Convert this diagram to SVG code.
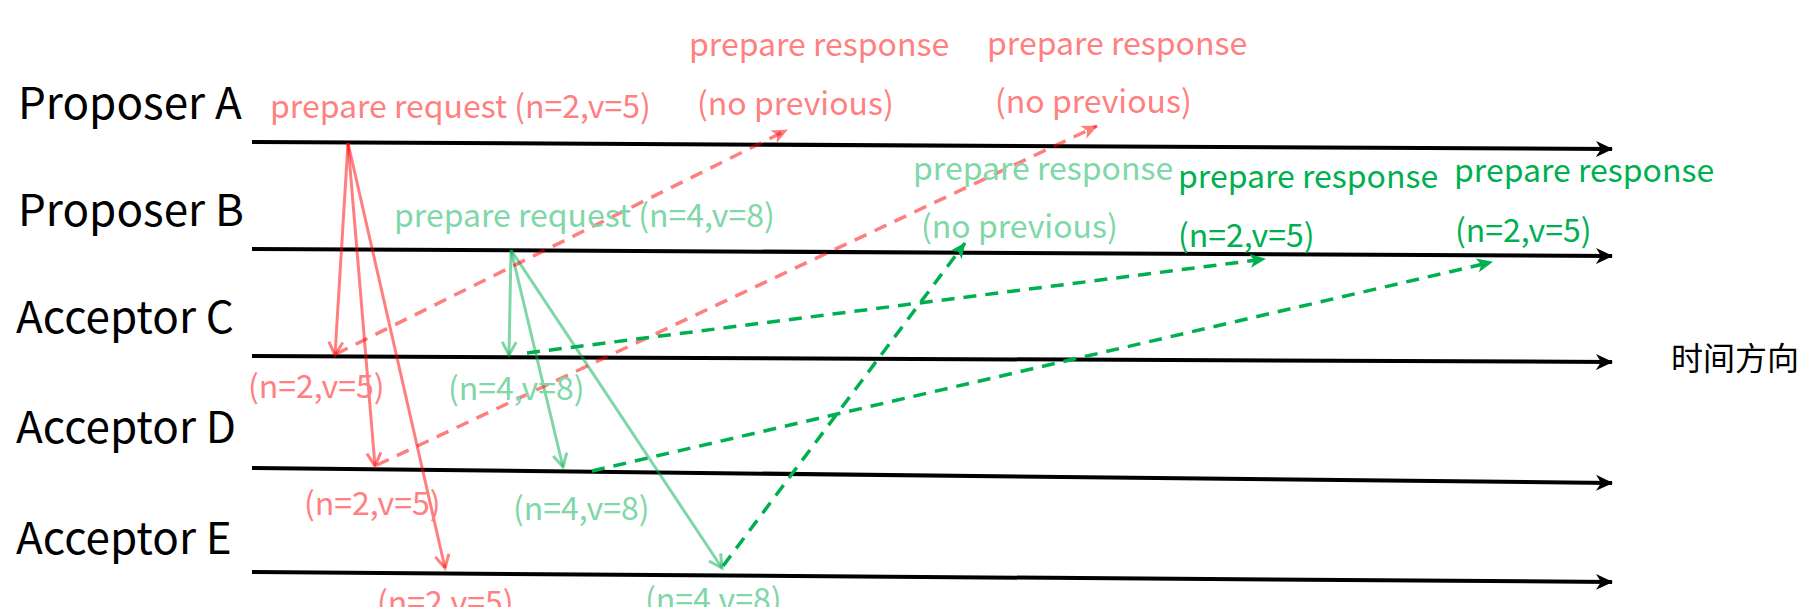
<svg xmlns="http://www.w3.org/2000/svg" width="1820" height="607" viewBox="0 0 1820 607">
<style>
text{font-family:"Noto Sans CJK SC","Noto Sans",sans-serif}
.big{font-size:44px;fill:#000}
.lbl{font-size:32px}
.r{fill:#FF8080}
.lg{fill:#80D7A7}
.dg{fill:#00B050}
.time{stroke:#000;stroke-width:4;fill:none;marker-end:url(#blk)}
.req-r{stroke:#FF0000;stroke-opacity:0.5;stroke-width:3;fill:none;marker-end:url(#openR)}
.req-g{stroke:#00B050;stroke-opacity:0.5;stroke-width:3;fill:none;marker-end:url(#openG)}
.res-r{stroke:#FF0000;stroke-opacity:0.5;stroke-width:3.5;stroke-dasharray:13 9;fill:none;marker-end:url(#fillR)}
.res-g{stroke:#00B050;stroke-width:3.5;stroke-dasharray:13 9;fill:none;marker-end:url(#fillG)}
</style>
<defs>
<marker id="blk" markerUnits="userSpaceOnUse" markerWidth="20" markerHeight="20" refX="16" refY="10" orient="auto" viewBox="0 0 20 20">
<path d="M0,2 L17,10 L0,18 L5,10 Z" fill="#000"/>
</marker>
<marker id="openR" markerUnits="userSpaceOnUse" markerWidth="20" markerHeight="20" refX="16" refY="10" orient="auto" viewBox="0 0 20 20">
<path d="M3,3 L16,10 L3,17" fill="none" stroke="#FF0000" stroke-opacity="0.5" stroke-width="3"/>
</marker>
<marker id="openG" markerUnits="userSpaceOnUse" markerWidth="20" markerHeight="20" refX="16" refY="10" orient="auto" viewBox="0 0 20 20">
<path d="M3,3 L16,10 L3,17" fill="none" stroke="#00B050" stroke-opacity="0.5" stroke-width="3"/>
</marker>
<marker id="fillR" markerUnits="userSpaceOnUse" markerWidth="20" markerHeight="20" refX="16" refY="10" orient="auto" viewBox="0 0 20 20">
<path d="M1,3 L17,10 L1,17 L5,10 Z" fill="#FF0000" fill-opacity="0.5"/>
</marker>
<marker id="fillG" markerUnits="userSpaceOnUse" markerWidth="20" markerHeight="20" refX="16" refY="10" orient="auto" viewBox="0 0 20 20">
<path d="M1,3 L17,10 L1,17 L5,10 Z" fill="#00B050"/>
</marker>
</defs>

<g id="proposer-a"><text class="big" x="18" y="119">Proposer A</text></g>
<g id="proposer-b"><text class="big" x="18" y="226">Proposer B</text></g>
<g id="acceptor-c"><text class="big" x="16" y="333">Acceptor C</text></g>
<g id="acceptor-d"><text class="big" x="16" y="443">Acceptor D</text></g>
<g id="acceptor-e"><text class="big" x="16" y="554">Acceptor E</text></g>
<g id="time-label"><text class="lbl" x="1671" y="370" fill="#000">时间方向</text></g>

<g id="connectors">
<line class="time" x1="252" y1="142" x2="1612" y2="149"/>
<line class="time" x1="252" y1="249" x2="1612" y2="256"/>
<line class="time" x1="252" y1="356" x2="1612" y2="362"/>
<line class="time" x1="252" y1="468" x2="1612" y2="483"/>
<line class="time" x1="252" y1="572" x2="1612" y2="582"/>

<line class="req-r" x1="348" y1="143" x2="335" y2="355"/>
<line class="req-r" x1="348" y1="143" x2="375" y2="466"/>
<line class="req-r" x1="348" y1="143" x2="445" y2="568"/>

<line class="req-g" x1="511" y1="250" x2="509" y2="355"/>
<line class="req-g" x1="511" y1="250" x2="563" y2="467"/>
<line class="req-g" x1="511" y1="250" x2="722" y2="568"/>

<line class="res-r" x1="336" y1="354" x2="787" y2="130"/>
<line class="res-r" x1="377" y1="465" x2="1097" y2="126"/>

<line class="res-g" x1="527" y1="353" x2="1265" y2="259"/>
<line class="res-g" x1="592" y1="471" x2="1492" y2="262"/>
<line class="res-g" x1="723" y1="566" x2="965" y2="243"/>
</g>

<g id="label-req-a"><text class="lbl r" x="270" y="118">prepare request (n=2,v=5)</text></g>
<g id="label-req-b"><text class="lbl lg" x="394" y="227">prepare request (n=4,v=8)</text></g>
<g id="label-c-r"><text class="lbl r" x="248" y="398">(n=2,v=5)</text></g>
<g id="label-c-g"><text class="lbl lg" x="448" y="400">(n=4,v=8)</text></g>
<g id="label-d-r"><text class="lbl r" x="304" y="515">(n=2,v=5)</text></g>
<g id="label-d-g"><text class="lbl lg" x="513" y="520">(n=4,v=8)</text></g>
<g id="label-e-r"><text class="lbl r" x="377" y="614">(n=2,v=5)</text></g>
<g id="label-e-g"><text class="lbl lg" x="645" y="611">(n=4,v=8)</text></g>
<g id="label-res-r1"><text class="lbl r" x="689" y="56">prepare response</text><text class="lbl r" x="697" y="115">(no previous)</text></g>
<g id="label-res-r2"><text class="lbl r" x="987" y="55">prepare response</text><text class="lbl r" x="995" y="113">(no previous)</text></g>
<g id="label-res-g1"><text class="lbl lg" x="913" y="180">prepare response</text><text class="lbl lg" x="921" y="238">(no previous)</text></g>
<g id="label-res-g2"><text class="lbl dg" x="1178" y="188">prepare response</text><text class="lbl dg" x="1178" y="247">(n=2,v=5)</text></g>
<g id="label-res-g3"><text class="lbl dg" x="1454" y="182">prepare response</text><text class="lbl dg" x="1455" y="242">(n=2,v=5)</text></g>
</svg>
